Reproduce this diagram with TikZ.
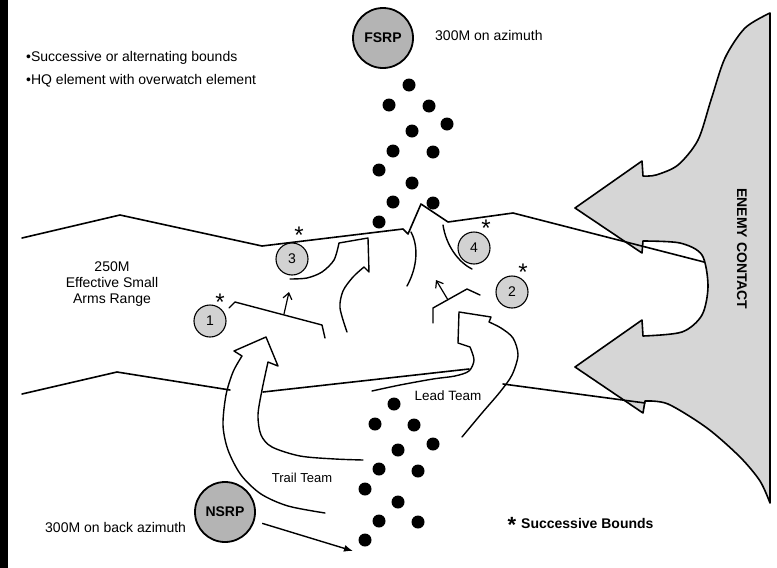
\documentclass[tikz,border=0pt]{standalone}
\usepackage{fontspec}
\setmainfont{Liberation Sans}
\usetikzlibrary{arrows.meta}
\definecolor{enemygray}{HTML}{D6D6D6}
\definecolor{numgray}{HTML}{D2D2D2}
\definecolor{rpgray}{HTML}{B4B4B4}
\begin{document}
\begin{tikzpicture}[x=1pt,y=-1pt,
  lane/.style={line width=1.6pt, line join=round, line cap=round},
  outl/.style={line width=1.4pt, line join=round, line cap=round},
  dot/.style={circle, fill=black, inner sep=0, minimum size=13pt},
  numc/.style={circle, draw, line width=1.1pt, fill=numgray, minimum size=32pt, inner sep=0, font=\fontsize{14}{14}\selectfont},
  rp/.style={circle, draw, line width=1.8pt, fill=rpgray, minimum size=60pt, inner sep=0, font=\bfseries\fontsize{14}{14}\selectfont},
  lbl/.style={font=\fontsize{14}{16}\selectfont, inner sep=0},
  star/.style={font=\fontsize{24}{24}\selectfont, inner sep=0, anchor=north},
  small/.style={line width=1.2pt, -{Straight Barb[length=6pt,width=9pt]}},
]
\useasboundingbox (0,0) rectangle (777,568);
\fill[white] (0,0) rectangle (777,568);
\fill[black] (0,0) rectangle (7.5,568);

% enemy contact shape
\filldraw[fill=enemygray, line width=1.6pt, line join=round]
  (770,13) -- plot[smooth] coordinates {(770,13)(745,28)(725,58)(711,100)(698,140)(678,165)(656,175)(643,176)}
  -- (642,161) -- (575,208) -- (642,253) -- (643,241)
  -- plot[smooth] coordinates {(643,241)(680,243)(702,255)(708,286)(702,315)(682,332)(643,336)}
  -- (642,320) -- (575,367) -- (643,413) -- (645,401)
  -- plot[smooth] coordinates {(645,401)(668,404)(707,428)(740,457)(760,481)(770,503)}
  -- cycle;
\node[font=\bfseries\fontsize{14}{14}\selectfont, rotate=-90] (enemy) at (742,249) {ENEMY CONTACT};

% lane boundaries
\draw[lane] (22,238) -- (120,215) -- (262,246) -- (403,229) -- (408,234) -- (421,204) -- (448,222) -- (513,213) -- (704,262);
\draw[lane] (22,394) -- (117,372) -- (230,390);
\draw[lane] (263,392) -- (469,369);
\draw[lane] (503,384) -- (645,403);

% central arrow shaft
\draw[outl] (411,232) .. controls (419,247) and (417,268) .. (407,286);
% bracket around 4
\draw[outl] (443,225) .. controls (446,245) and (458,262) .. (472,269);
% bracket around 3 and arrow next to it
\draw[outl] plot[smooth] coordinates {(290,279)(307,278)(322,272)(334,260)(339,243)}
  -- (368,238) -- (369,272) -- (364,267)
  -- plot[smooth] coordinates {(364,267)(353,277)(343,291)(340,308)(347,332)};

% bound 1
\draw[outl] (229,308) -- (235,302) -- (322,325) -- (325,338);
\coordinate (a1s) at (284,314);
\coordinate (a1e) at (289,292);
\draw[small] (a1s) -- (a1e);
% bound 2
\draw[outl] (480,295) -- (467,289) -- (433,308) -- (433,323);
\coordinate (a2s) at (448,300);
\coordinate (a2e) at (436,280);
\draw[small] (a2s) -- (a2e);

% trail team arrow
\draw[outl] plot[smooth] coordinates {(325,513)(288,506)(261,494)(241,475)(228,450)(223,425)(226,395)(233,372)(242,356)}
  -- (234,351) -- (266,337) -- (278,366) -- (268,362)
  -- plot[smooth] coordinates {(268,362)(262,390)(258,415)(261,435)(272,447)(300,456)(335,459)(363,460)};

% lead team arrow
\draw[outl] plot[smooth] coordinates {(462,437)(482,413)(500,392)(512,375)(518,355)(513,338)(501,328)(489,322)}
  -- (491,317) -- (459,312) -- (458,343) -- (470,347)
  -- plot[smooth] coordinates {(470,347)(474,360)(469,371)(455,376)(433,379)(400,385)(372,391)};

% dots
\foreach \p [count=\i] in {(409,85),(389,105),(429,106),(447,124),(412,131),(393,151),(433,152),(379,170),(412,183),(393,202),(433,203),(379,222)}
  \node[dot] (u\i) at \p {};
\foreach \p [count=\i] in {(394,404),(375,424),(414,425),(433,444),(398,450),(379,469),(418,471),(365,489),(398,502),(379,521),(418,522),(365,540)}
  \node[dot] (l\i) at \p {};

% numbered positions
\node[numc] (n1) at (210,321) {1};
\node[numc] (n2) at (512,292) {2};
\node[numc] (n3) at (292,259) {3};
\node[numc] (n4) at (474,248) {4};
\node[star] (s1) at (220,294) {*};
\node[star] (s2) at (523,264) {*};
\node[star] (s3) at (299,227) {*};
\node[star] (s4) at (486,220) {*};

% release points
\node[rp] (fsrp) at (383,38) {FSRP};
\node[rp] (nsrp) at (225,512) {NSRP};
\coordinate (nsrpEnd) at (353,551);
\draw[line width=1.4pt, shorten <=8pt, -{Latex[length=9pt,width=7pt]}] (nsrp) -- (nsrpEnd);

% texts
\node[lbl, anchor=west] (t1) at (26,58) {•Successive or alternating bounds};
\node[lbl, anchor=west] (t2) at (26,81) {•HQ element with overwatch element};
\node[lbl, anchor=west] (t3) at (435,35) {300M on azimuth};
\node[lbl, align=center] (t4) at (112,284) {250M\\Effective Small\\Arms Range};
\node[lbl, font=\fontsize{13}{15}\selectfont] (t5) at (302,478) {Trail Team};
\node[lbl, font=\fontsize{13.5}{15}\selectfont] (t6) at (448,396) {Lead Team};
\node[lbl, anchor=west] (t7) at (45,527) {300M on back azimuth};
\node[star, font=\bfseries\fontsize{22}{22}\selectfont] (s5) at (512,517) {*};
\node[lbl, anchor=west, font=\bfseries\fontsize{14}{16}\selectfont] (t8) at (521,523) {Successive Bounds};
\end{tikzpicture}
\end{document}
